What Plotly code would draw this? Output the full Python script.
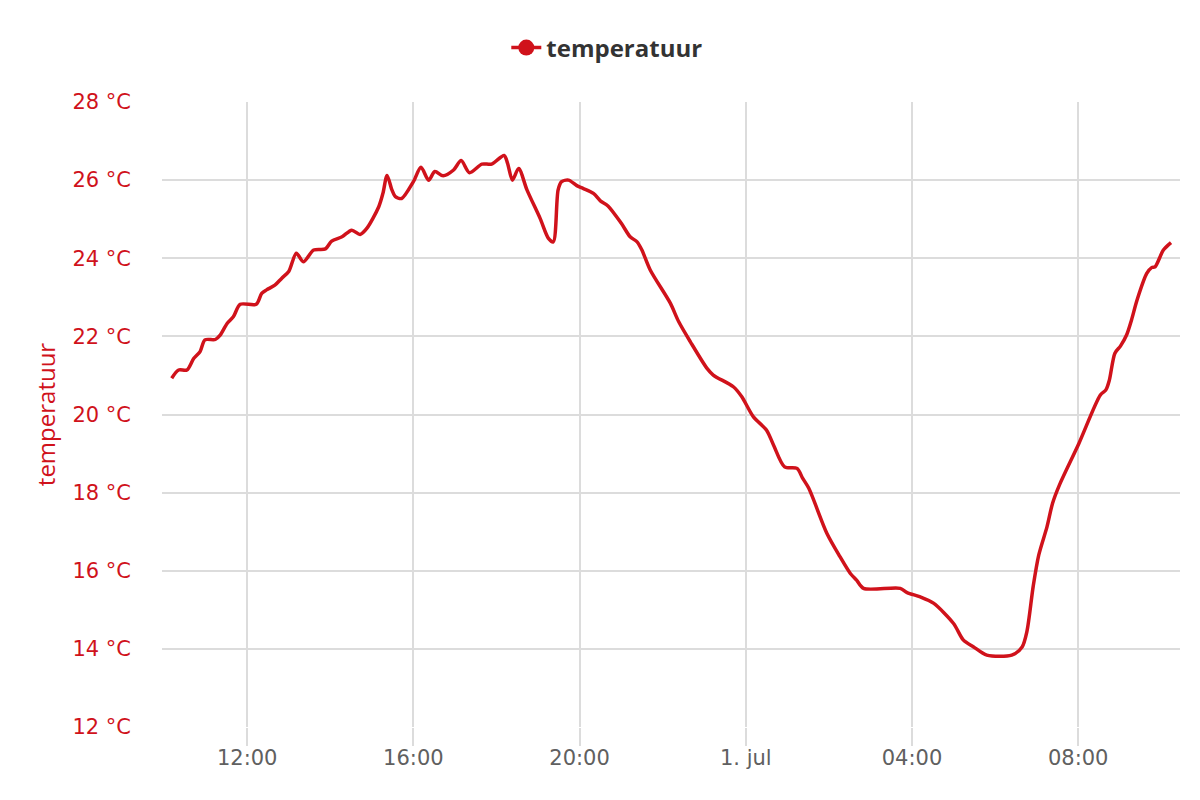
import plotly.graph_objects as go

times = [
    "2023-06-30 10:11", "2023-06-30 10:21", "2023-06-30 10:33", "2023-06-30 10:43", "2023-06-30 10:52",
    "2023-06-30 10:59", "2023-06-30 11:14", "2023-06-30 11:21", "2023-06-30 11:31", "2023-06-30 11:40",
    "2023-06-30 11:50", "2023-06-30 12:13", "2023-06-30 12:21", "2023-06-30 12:28", "2023-06-30 12:40",
    "2023-06-30 12:50", "2023-06-30 13:00", "2023-06-30 13:11", "2023-06-30 13:21", "2023-06-30 13:36",
    "2023-06-30 13:53", "2023-06-30 14:02", "2023-06-30 14:17", "2023-06-30 14:31", "2023-06-30 14:43",
    "2023-06-30 14:53", "2023-06-30 15:10", "2023-06-30 15:16", "2023-06-30 15:22", "2023-06-30 15:29",
    "2023-06-30 15:34", "2023-06-30 15:43", "2023-06-30 16:00", "2023-06-30 16:11", "2023-06-30 16:22",
    "2023-06-30 16:31", "2023-06-30 16:43", "2023-06-30 16:58", "2023-06-30 17:09", "2023-06-30 17:21",
    "2023-06-30 17:39", "2023-06-30 17:53", "2023-06-30 18:11", "2023-06-30 18:16", "2023-06-30 18:23",
    "2023-06-30 18:32", "2023-06-30 18:44", "2023-06-30 19:03", "2023-06-30 19:15", "2023-06-30 19:22",
    "2023-06-30 19:29", "2023-06-30 19:34", "2023-06-30 19:44", "2023-06-30 19:56", "2023-06-30 20:05",
    "2023-06-30 20:20", "2023-06-30 20:30", "2023-06-30 20:41", "2023-06-30 21:00", "2023-06-30 21:13",
    "2023-06-30 21:23", "2023-06-30 21:30", "2023-06-30 21:42", "2023-06-30 22:11", "2023-06-30 22:23",
    "2023-06-30 22:40", "2023-06-30 23:04", "2023-06-30 23:13", "2023-06-30 23:42", "2023-06-30 23:54",
    "2023-07-01 00:11", "2023-07-01 00:30", "2023-07-01 00:40", "2023-07-01 00:56", "2023-07-01 01:14",
    "2023-07-01 01:22", "2023-07-01 01:31", "2023-07-01 01:57", "2023-07-01 02:16", "2023-07-01 02:31",
    "2023-07-01 02:40", "2023-07-01 02:50", "2023-07-01 03:43", "2023-07-01 03:53", "2023-07-01 04:12",
    "2023-07-01 04:31", "2023-07-01 05:00", "2023-07-01 05:14", "2023-07-01 05:29", "2023-07-01 05:48",
    "2023-07-01 06:24", "2023-07-01 06:39", "2023-07-01 06:46", "2023-07-01 06:55", "2023-07-01 07:03",
    "2023-07-01 07:15", "2023-07-01 07:23", "2023-07-01 07:33", "2023-07-01 08:01", "2023-07-01 08:32",
    "2023-07-01 08:40", "2023-07-01 08:45", "2023-07-01 08:53", "2023-07-01 09:01", "2023-07-01 09:10",
    "2023-07-01 09:17", "2023-07-01 09:25", "2023-07-01 09:39", "2023-07-01 09:46", "2023-07-01 09:51",
    "2023-07-01 10:03", "2023-07-01 10:14",
]

temperatuur = [
    20.93, 21.14, 21.14, 21.44, 21.61,
    21.91, 21.92, 22.03, 22.33, 22.50,
    22.82, 22.82, 23.10, 23.19, 23.31,
    23.49, 23.66, 24.13, 23.91, 24.21,
    24.24, 24.44, 24.55, 24.72, 24.61,
    24.77, 25.32, 25.66, 26.12, 25.75,
    25.58, 25.53, 25.96, 26.33, 26.00,
    26.22, 26.11, 26.26, 26.50, 26.19,
    26.41, 26.41, 26.63, 26.43, 26.00,
    26.30, 25.75, 25.02, 24.51, 24.42,
    25.75, 25.96, 26.00, 25.86, 25.79,
    25.66, 25.47, 25.34, 24.90, 24.55,
    24.42, 24.21, 23.70, 22.85, 22.38,
    21.86, 21.18, 21.01, 20.71, 20.46,
    19.94, 19.60, 19.22, 18.66, 18.62,
    18.37, 18.11, 16.96, 16.36, 15.93,
    15.76, 15.55, 15.55, 15.44, 15.33,
    15.17, 14.65, 14.23, 14.05, 13.84,
    13.84, 14.05, 14.45, 15.60, 16.40,
    17.13, 17.73, 18.20, 19.26, 20.50,
    20.63, 20.88, 21.57, 21.75, 22.04,
    22.42, 22.93, 23.61, 23.76, 23.78,
    24.21, 24.40,
]

x_tick_vals = ["2023-06-30 12:00", "2023-06-30 16:00", "2023-06-30 20:00",
               "2023-07-01 00:00", "2023-07-01 04:00", "2023-07-01 08:00"]
x_tick_text = ["12:00", "16:00", "20:00", "1. jul", "04:00", "08:00"]
x_range = ["2023-06-30 09:57", "2023-07-01 10:27"]
y_range = [12, 28]

RED = "#d0121b"
GRID = "#dcdcdc"

fig = go.Figure()
fig.add_trace(go.Scatter(
    x=times, y=temperatuur, mode="lines", name="temperatuur",
    line=dict(color=RED, width=3.5, shape="spline", smoothing=0.8),
    showlegend=False,
))
fig.add_trace(go.Scatter(
    x=[None], y=[None], mode="lines+markers", name="temperatuur",
    line=dict(color=RED, width=3.5), marker=dict(color=RED, size=17),
))

fig.update_layout(
    width=1200, height=800,
    paper_bgcolor="white", plot_bgcolor="white",
    margin=dict(l=154, r=28, t=94, b=81),
    legend=dict(orientation="h", x=0.499, xanchor="center", xref="container",
                y=0.95, yanchor="middle", yref="container",
                font=dict(family="Open Sans", size=24, color="#333333", weight="bold")),
    xaxis=dict(
        range=x_range, tickvals=x_tick_vals, ticktext=x_tick_text,
        showgrid=True, gridcolor=GRID, gridwidth=2,
        ticks="outside", ticklen=18, tickwidth=2, tickcolor=GRID,
        ticklabelstandoff=-6,
        showline=False, zeroline=False,
        tickfont=dict(family="DejaVu Sans", size=21, color="#606060"),
    ),
    yaxis=dict(
        range=y_range, dtick=2, tick0=12, ticksuffix=" °C",
        showgrid=True, gridcolor=GRID, gridwidth=2,
        showline=False, zeroline=False, ticks="",
        ticklabelstandoff=30,
        tickfont=dict(family="DejaVu Sans", size=21, color=RED),
        title=dict(text="temperatuur", standoff=10,
                   font=dict(family="Open Sans", size=24, color=RED)),
    ),
)

fig.write_html("out.html")
